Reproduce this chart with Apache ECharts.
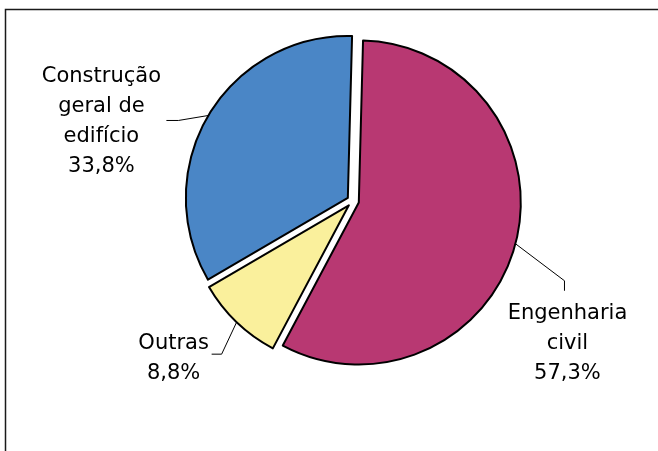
<!DOCTYPE html>
<html><head><meta charset="utf-8">
<script src="https://cdn.jsdelivr.net/npm/echarts@6/dist/echarts.min.js"></script>
<style>html,body{margin:0;padding:0;background:#fff}#c{width:658px;height:451px}</style>
</head><body><div id="c"></div>
<script>
const categories = ['Engenharia civil', 'Outras', 'Construção geral de edifício'];
const labelNames = ['Engenharia\ncivil', 'Outras', 'Construção\ngeral de\nedifício'];
const values = [57.3, 8.8, 33.8];
const colors = ['#B83872', '#FAF09C', '#4A86C6'];

// layout (not data)
const CX = 353, CY = 201, R = 162, START_DEG = 1.5, OFFSET = 6;
const labelPlacement = [
  { elbow: [49, 37], end: [49, 47], text: [52, 100] },
  { elbow: [-15, 32], end: [-25, 32], text: [-63, 36] },
  { elbow: [-30, 5], end: [-42, 5], text: [-107, 6] }
];
const total = values.reduce((a, b) => a + b, 0);
function arcPoint(i) {
  let before = 0;
  for (let k = 0; k < i; k++) before += values[k];
  const frac = (before + values[i] / 2) / total;
  const a = (START_DEG + 360 * frac) * Math.PI / 180;
  const dx = Math.sin(a), dy = -Math.cos(a);
  return [CX + (R + OFFSET) * dx, CY + (R + OFFSET) * dy];
}

const common = {
  type: 'pie',
  center: [CX, CY],
  radius: R,
  startAngle: 90 - START_DEG,
  clockwise: true,
  silent: true,
  avoidLabelOverlap: false,
  emphasis: { disabled: true }
};

const chart = echarts.init(document.getElementById('c'), null, { renderer: 'canvas' });
chart.setOption({
  animation: false,
  graphic: [{
    type: 'rect', silent: true,
    shape: { x: 5.5, y: 9.5, width: 700, height: 500 },
    style: { fill: 'none', stroke: '#1a1a1a', lineWidth: 1.5 }
  }],
  series: [Object.assign({}, common, {
    selectedMode: 'multiple',
    selectedOffset: OFFSET,
    itemStyle: { borderColor: '#000', borderWidth: 2 },
    select: { itemStyle: { borderColor: '#000', borderWidth: 2 } },
    label: { show: false },
    labelLine: { show: false },
    data: categories.map((name, i) => ({
      name: name,
      value: values[i],
      selected: true,
      itemStyle: { color: colors[i] }
    }))
  }), Object.assign({}, common, {
    selectedMode: false,
    z: 5,
    itemStyle: { color: 'rgba(0,0,0,0)', borderWidth: 0 },
    label: {
      show: true,
      position: 'outside',
      fontFamily: 'DejaVu Sans',
      fontSize: 21,
      lineHeight: 30,
      color: '#000',
      align: 'center',
      formatter: function (p) {
        return labelNames[p.dataIndex] + '\n' + p.value.toFixed(1).replace('.', ',') + '%';
      }
    },
    labelLine: { show: true, lineStyle: { color: '#000', width: 1 } },
    labelLayout: function (params) {
      const i = params.dataIndex;
      const p0 = arcPoint(i);
      const L = labelPlacement[i];
      return {
        x: p0[0] + L.text[0],
        y: p0[1] + L.text[1],
        align: 'center',
        verticalAlign: 'middle',
        labelLinePoints: [
          p0,
          [p0[0] + L.elbow[0], p0[1] + L.elbow[1]],
          [p0[0] + L.end[0], p0[1] + L.end[1]]
        ]
      };
    },
    data: categories.map((name, i) => ({ name: name, value: values[i] }))
  })]
});
</script>
</body></html>
